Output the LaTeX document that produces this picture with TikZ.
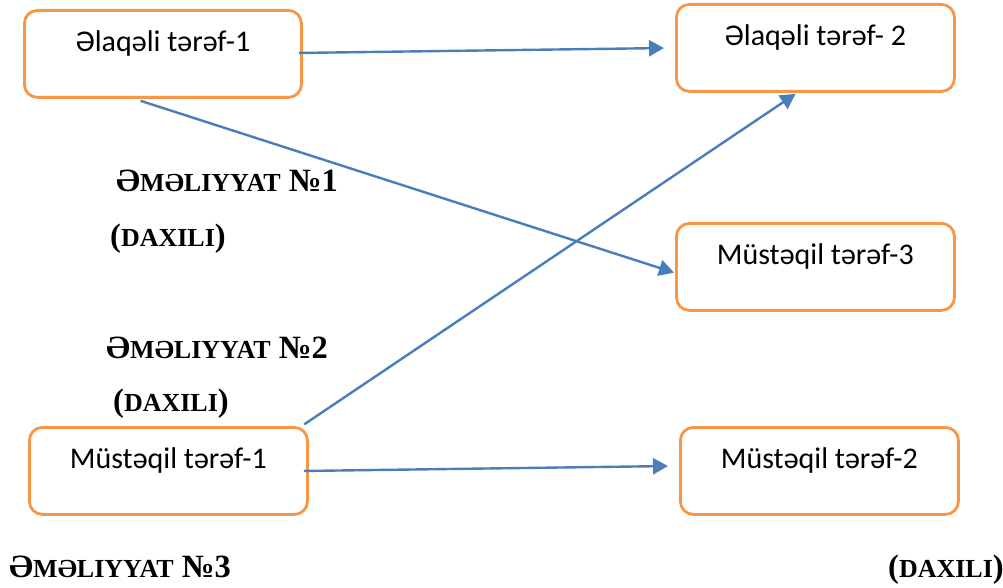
\documentclass[tikz,border=0pt]{standalone}
\usepackage{fontspec}
\setmainfont{Liberation Serif}
\newfontfamily\calibri{Carlito}
\usetikzlibrary{positioning, calc, arrows.meta}

\definecolor{boxorange}{HTML}{F79646}
\definecolor{lineblue}{HTML}{4A7EBB}

% small capitals as the word processor fakes them
\newcommand{\kicik}[1]{{\fontsize{26}{26}\selectfont #1}}

\tikzset{
    partybox/.style={draw=boxorange, line width=2.8pt, rounded corners=13pt,
        anchor=north west, inner xsep=0pt, inner ysep=0pt,
        text height=41pt, text depth=46pt,
        font=\calibri\fontsize{30}{30}\selectfont},
    oplabel/.style={anchor=base west, inner sep=0pt,
        font=\bfseries\fontsize{32.5}{33}\selectfont},
    flow/.style={draw=lineblue, line width=2.4pt,
        -{Triangle[length=15pt, width=16pt]}}
}

\begin{document}
\begin{tikzpicture}[x=1pt, y=-1pt]
    \useasboundingbox (0,0) rectangle (1003,588);

    % Define nodes
    \node[partybox, minimum width=277pt] (elaqeli1) at (23,9) {Əlaqəli tərəf-1};
    \node[partybox, minimum width=278pt] (elaqeli2) at (675,3) {Əlaqəli tərəf- 2};
    \node[partybox, minimum width=278pt] (musteqil3) at (675,222) {Müstəqil tərəf-3};
    \node[partybox, minimum width=278pt] (musteqil1) at (28,426) {Müstəqil tərəf-1};
    \node[partybox, minimum width=278pt] (musteqil2) at (679,426) {Müstəqil tərəf-2};

    % Operation labels
    \node[oplabel] (emel1) at (116,192) {Ə\kicik{MƏLIYYAT} №1};
    \node[oplabel] (daxili1) at (110,246) {(\kicik{DAXILI})};
    \node[oplabel] (emel2) at (106,358) {Ə\kicik{MƏLIYYAT} №2};
    \node[oplabel] (daxili2) at (113,411) {(\kicik{DAXILI})};
    \node[oplabel] (emel3) at (9,577) {Ə\kicik{MƏLIYYAT} №3};
    \node[oplabel] (daxili3) at (888,577) {(\kicik{DAXILI})};

    % Draw edges with arrows
    \draw[flow, shorten <=-4pt, shorten >=11pt] ($(elaqeli1.east)+(0,-1)$) -- (elaqeli2.west);
    \draw[flow, shorten >=1pt] ($(elaqeli1.south west)!.42!(elaqeli1.south east)+(0,2)$) -- ($(musteqil3.west)+(0,6)$);
    \draw[flow, shorten <=3pt, shorten >=2pt] ($(musteqil1.north west)!.975!(musteqil1.north east)$) -- ($(elaqeli2.south west)!.435!(elaqeli2.south east)$);
    \draw[flow, shorten <=-5pt, shorten >=11pt] (musteqil1.east) -- ($(musteqil2.west)+(0,-5)$);

\end{tikzpicture}
\end{document}
